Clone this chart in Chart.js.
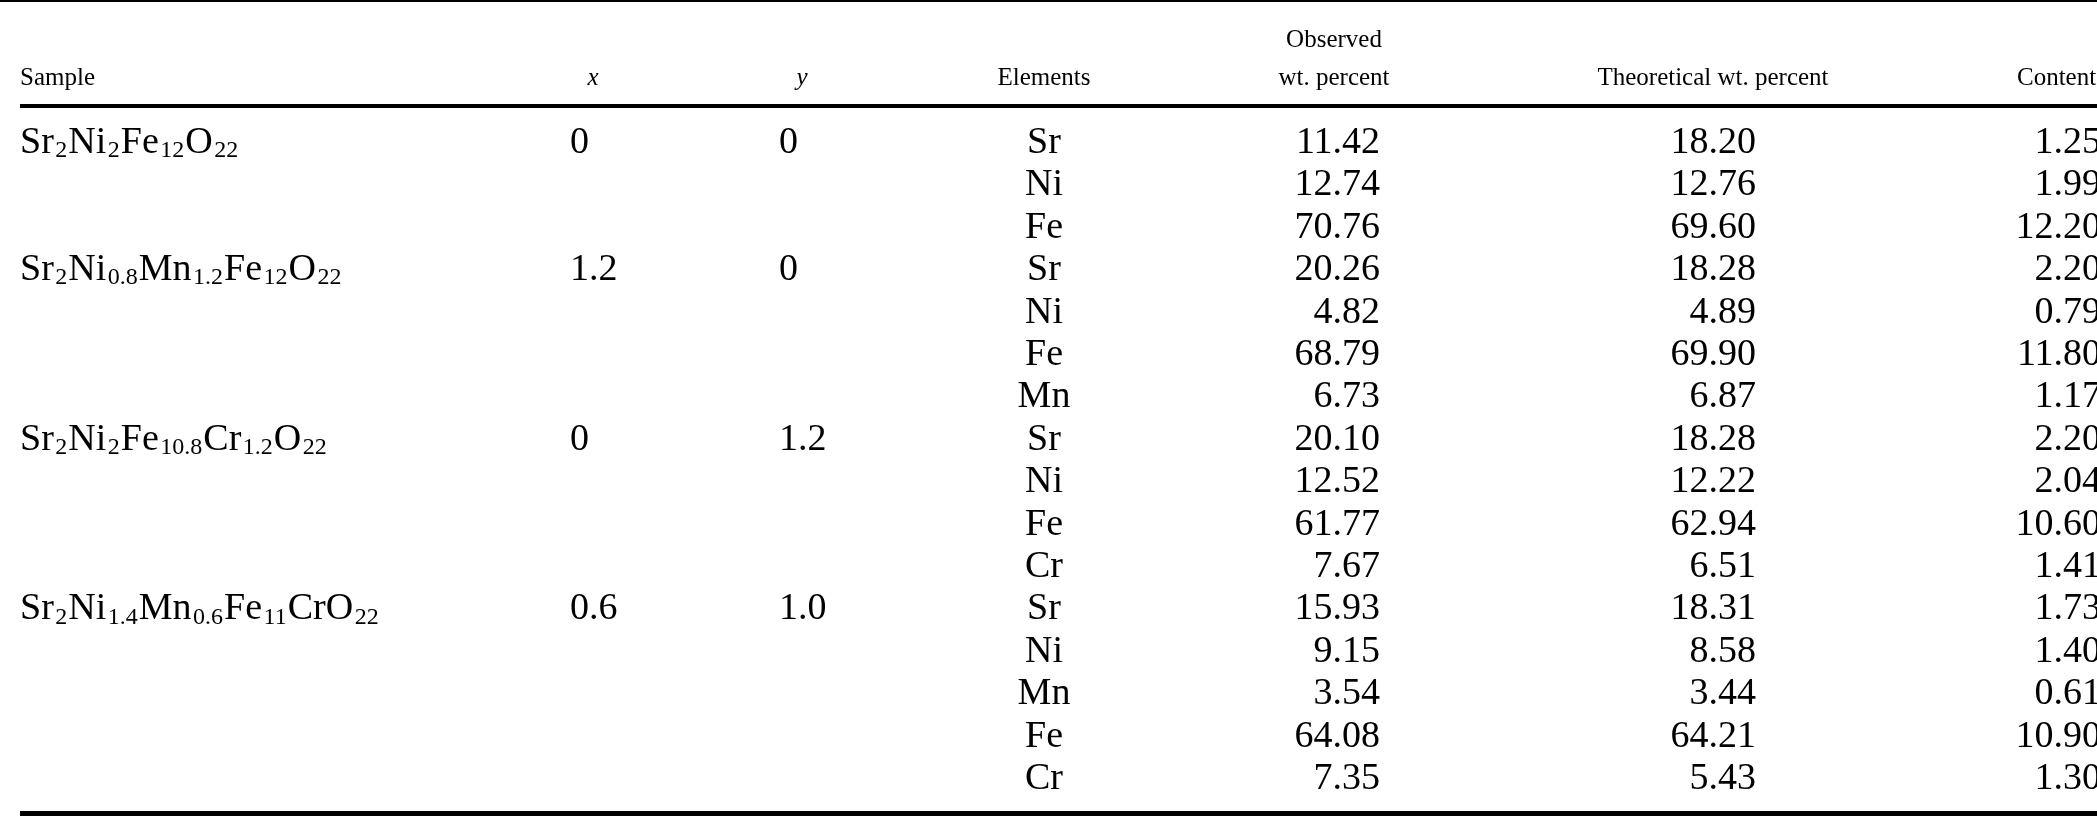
<!DOCTYPE html>
<html><head><meta charset="utf-8">
<script src="https://cdn.jsdelivr.net/npm/chart.js@4/dist/chart.umd.min.js"></script>
<style>html,body{margin:0;padding:0;background:#fff;overflow:hidden}</style>
</head><body>
<canvas id="c" width="2097" height="816"></canvas>
<script>
const headers = ["Sample", "x", "y", "Elements", "wt. percent", "Theoretical wt. percent", "Content"];
const samples = ["Sr2Ni2Fe12O22", "Sr2Ni0.8Mn1.2Fe12O22", "Sr2Ni2Fe10.8Cr1.2O22", "Sr2Ni1.4Mn0.6Fe11CrO22"];
const sampleRows = [0, 3, 7, 11];
const xVals = ["0", "1.2", "0", "0.6"];
const yVals = ["0", "0", "1.2", "1.0"];
const elements = ["Sr","Ni","Fe","Sr","Ni","Fe","Mn","Sr","Ni","Fe","Cr","Sr","Ni","Mn","Fe","Cr"];
const observed = ["11.42","12.74","70.76","20.26","4.82","68.79","6.73","20.10","12.52","61.77","7.67","15.93","9.15","3.54","64.08","7.35"];
const theoretical = ["18.20","12.76","69.60","18.28","4.89","69.90","6.87","18.28","12.22","62.94","6.51","18.31","8.58","3.44","64.21","5.43"];
const content = ["1.25","1.99","12.20","2.20","0.79","11.80","1.17","2.20","2.04","10.60","1.41","1.73","1.40","0.61","10.90","1.30"];

// layout (pixel space of the linear scales)
const colX = [20, 570, 779, 1044, 1380, 1756, 2101];
const colAlign = ["left","left","left","center","right","right","right"];
const headX = [20, 593, 802, 1044, 1334, 1713, 2017];
const row0 = 143, rowStep = 42.4;
const BODY = '38px "Liberation Serif", "DejaVu Serif", serif';
const SUB = '24px "Liberation Serif", "DejaVu Serif", serif';
const HEAD = '25px "Liberation Serif", "DejaVu Serif", serif';

function drawFormula(ctx, s, x, y) {
  const parts = s.match(/[A-Za-z]+|[0-9.]+/g);
  let cx = x;
  for (const p of parts) {
    const sub = /^[0-9.]/.test(p);
    ctx.font = sub ? SUB : BODY;
    ctx.textAlign = "left";
    ctx.fillText(p, cx, sub ? y + 8 : y);
    cx += ctx.measureText(p).width + (sub ? 1 : 1.5);
  }
}

const tablePlugin = {
  id: "table",
  afterDraw(chart) {
    const ctx = chart.ctx, xs = chart.scales.x, ys = chart.scales.y;
    const X = v => xs.getPixelForValue(v), Y = v => ys.getPixelForValue(v);
    ctx.save();
    ctx.fillStyle = "#000";
    ctx.fillRect(X(0), Y(0), X(2097) - X(0), 2);
    ctx.fillRect(X(20), Y(104), X(2097) - X(20), 4);
    ctx.fillRect(X(20), Y(811), X(2097) - X(20), 6);
    ctx.textBaseline = "middle";
    headers.forEach((h, i) => {
      ctx.font = (i === 1 || i === 2) ? 'italic ' + HEAD : HEAD;
      ctx.textAlign = (i === 0 || i === 6) ? "left" : "center";
      ctx.fillText(h, X(headX[i]), Y(78));
    });
    ctx.font = HEAD; ctx.textAlign = "center";
    ctx.fillText("Observed", X(1334), Y(40));
    const rowY = r => Y(row0 + r * rowStep);
    samples.forEach((s, i) => {
      const r = sampleRows[i];
      drawFormula(ctx, s, X(colX[0]), rowY(r));
      ctx.font = BODY; ctx.textAlign = "left";
      ctx.fillText(xVals[i], X(colX[1]), rowY(r));
      ctx.fillText(yVals[i], X(colX[2]), rowY(r));
    });
    [elements, observed, theoretical, content].forEach((arr, k) => {
      ctx.font = BODY; ctx.textAlign = colAlign[3 + k];
      arr.forEach((v, r) => ctx.fillText(v, X(colX[3 + k]), rowY(r)));
    });
    ctx.restore();
  }
};

new Chart(document.getElementById("c"), {
  type: "scatter",
  data: { datasets: [{ data: [], pointRadius: 0 }] },
  options: {
    responsive: false, animation: false, devicePixelRatio: 1,
    layout: { padding: 0 },
    plugins: { legend: { display: false }, tooltip: { enabled: false } },
    scales: {
      x: { type: "linear", min: 0, max: 2097, display: false },
      y: { type: "linear", min: 0, max: 816, reverse: true, display: false }
    }
  },
  plugins: [tablePlugin]
});
</script>
</body></html>
